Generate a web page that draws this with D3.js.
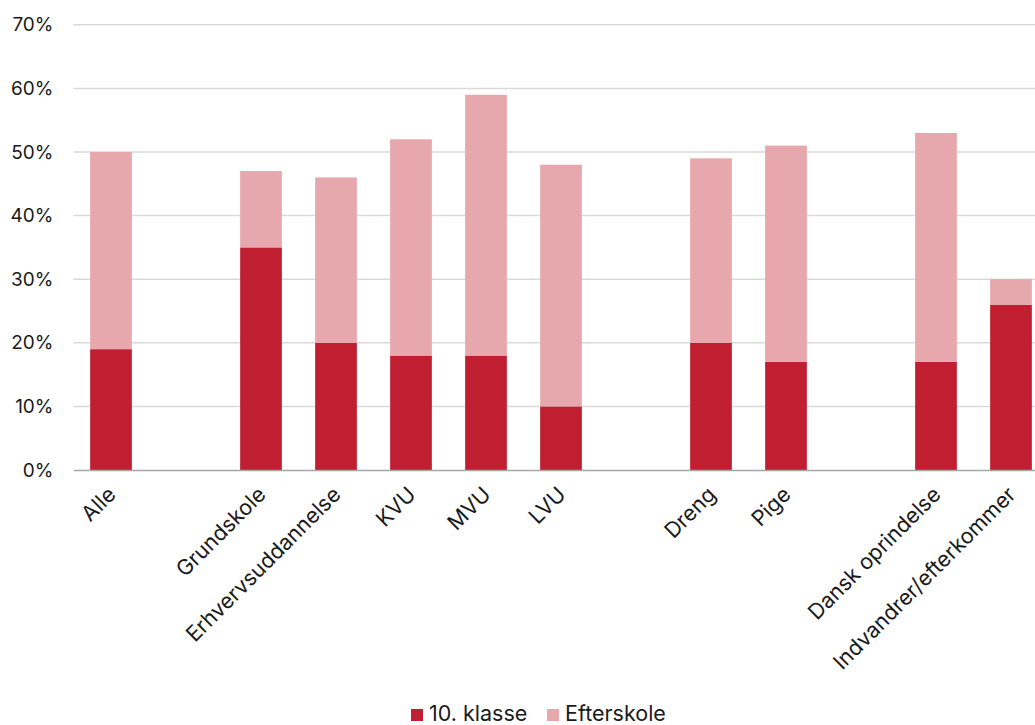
<!DOCTYPE html>
<html>
<head>
<meta charset="utf-8">
<script src="https://cdn.jsdelivr.net/npm/d3@7"></script>
<style>
  html, body { margin: 0; padding: 0; background: #fff; }
  svg { display: block; font-family: Inter, "Noto Sans", sans-serif; }
</style>
</head>
<body>
<svg id="chart" width="1035" height="725"></svg>
<script>
const categories = ["Alle", "", "Grundskole", "Erhvervsuddannelse", "KVU", "MVU", "LVU", " ", "Dreng", "Pige", "  ", "Dansk oprindelse", "Indvandrer/efterkommer"];
const klasse10 =   [19, null, 35, 20, 18, 18, 10, null, 20, 17, null, 17, 26];
const efterskole = [31, null, 12, 26, 34, 41, 38, null, 29, 34, null, 36, 4];
const seriesNames = ["10. klasse", "Efterskole"];
const colors = ["#C01F32", "#E6A7AD"];
const yTicks = [0, 10, 20, 30, 40, 50, 60, 70];

const svg = d3.select("#chart");
const W = 1035, H = 725;
const margin = { left: 73.5, right: -13.5, top: 24.8, bottom: 255 };
const x = d3.scaleBand().domain(categories).range([margin.left, W - margin.right]).paddingInner(0.444).paddingOuter(0.222);
const y = d3.scaleLinear().domain([0, 70]).range([470, 24.8]);

// gridlines
svg.append("g").selectAll("line").data(yTicks.filter(d => d > 0)).join("line")
  .attr("x1", margin.left).attr("x2", W - margin.right)
  .attr("y1", d => y(d)).attr("y2", d => y(d))
  .attr("stroke", "#D9D9D9").attr("stroke-width", 1.5);

// y axis labels
const yAxis = d3.axisLeft(y).tickValues(yTicks).tickFormat(d => d + "%").tickSize(0).tickPadding(20);
const gy = svg.append("g").attr("transform", `translate(${margin.left},0)`).call(yAxis);
gy.select(".domain").remove();
gy.selectAll("text").attr("font-size", 19).attr("fill", "#1a1a1a").attr("font-family", "Inter, sans-serif");

// stacked data
const rows = categories.map((c, i) => ({ cat: c, a: klasse10[i], b: efterskole[i] }));
const stack = d3.stack().keys(["a", "b"]).value((d, k) => d[k] || 0);
const stacked = stack(rows);

svg.append("g").selectAll("g").data(stacked).join("g")
  .attr("fill", (d, i) => colors[i])
  .selectAll("rect").data(d => d.filter(p => p.data.a !== null)).join("rect")
  .attr("x", d => x(d.data.cat))
  .attr("width", x.bandwidth())
  .attr("y", d => y(d[1]))
  .attr("height", d => y(d[0]) - y(d[1]));

// x axis
const xAxis = d3.axisBottom(x).tickSize(0).tickSizeOuter(0).tickFormat(d => d.trim());
const gx = svg.append("g").attr("transform", `translate(0,${y(0)})`).call(xAxis);
gx.select(".domain").attr("stroke", "#A6A6A6").attr("stroke-width", 1.5);
gx.selectAll("text")
  .attr("font-size", 21.5).attr("fill", "#1a1a1a").attr("font-family", "Inter, sans-serif")
  .attr("text-anchor", "end")
  .attr("dy", 0)
  .attr("y", 0)
  .attr("transform", "translate(6,26) rotate(-45)");

// legend
const legend = svg.append("g");
const legendItems = [
  { name: seriesNames[0], color: colors[0], x: 411 },
  { name: seriesNames[1], color: colors[1], x: 547 }
];
legendItems.forEach(it => {
  legend.append("rect").attr("x", it.x).attr("y", 709).attr("width", 12).attr("height", 12).attr("fill", it.color);
  legend.append("text").attr("x", it.x + 18).attr("y", 720.5).attr("font-size", 21.5)
    .attr("fill", "#1a1a1a").text(it.name);
});
</script>
</body>
</html>
